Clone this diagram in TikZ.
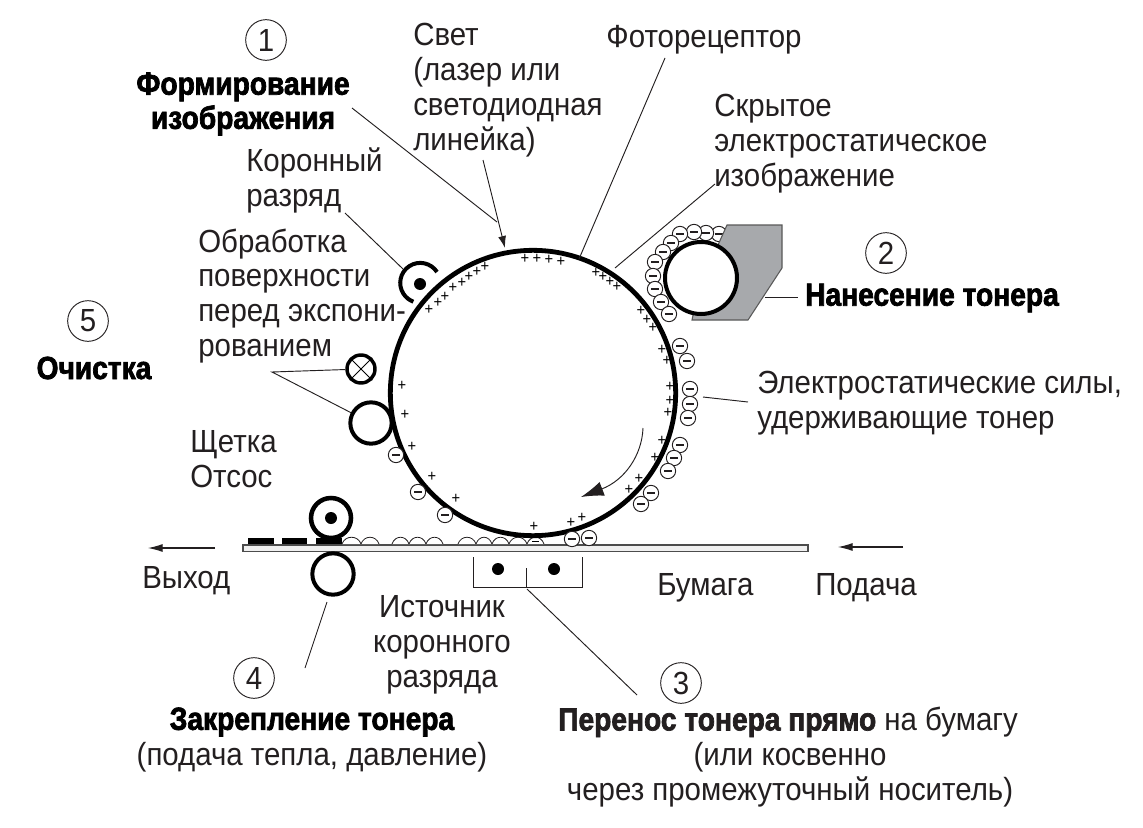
\documentclass[tikz,border=0pt]{standalone}
\usepackage{fontspec}
\usetikzlibrary{arrows.meta}
\setmainfont[FakeStretch=0.92]{Liberation Sans}
\newfontfamily\heavyfont[FakeStretch=0.88,FakeBold=2.2]{Liberation Sans Bold}
\definecolor{inkgray}{HTML}{231F20}
\definecolor{boxgray}{HTML}{A7A9AC}
\tikzset{
    lbl/.style={inner sep=0pt, anchor=west, align=left, text=inkgray,
        font=\fontsize{24}{26.2}\selectfont},
    lblmid/.style={lbl, anchor=center, align=center},
    heavy/.style={inner sep=0pt, anchor=center, align=center, text=black,
        font=\fontsize{24}{25.6}\heavyfont},
    numcirc/.style={circle, draw=inkgray, line width=0.7pt, minimum size=30.5pt, inner sep=0pt,
        text=inkgray, font=\fontsize{24}{24}\selectfont},
    roller/.style={circle, draw=black, fill=white, inner sep=0pt},
    dotmark/.style={circle, fill=black, minimum size=9pt, inner sep=0pt},
    toner/.style={circle, draw=inkgray, fill=white, line width=0.7pt, minimum size=11.5pt, inner sep=0pt,
        path picture={\draw[line width=0.9pt] (-2.8pt,0) -- (2.8pt,0);}},
    pluschg/.style={inner sep=0pt, text=black, font=\fontsize{12}{12}\selectfont},
    lead/.style={draw=inkgray, line width=0.7pt}
}
\begin{document}
\begin{tikzpicture}[x=0.75pt, y=-0.75pt, >=latex]
    \useasboundingbox (0,0) rectangle (1143,828);

    % 1. Бумага и валики
    \fill[white] (0,0) rectangle (1143,828);
    \draw[draw=black!70, fill=black!6, line width=0.9pt] (243,545) rectangle (808,551.5);
    \foreach \xa/\xb in {248/274, 282/307, 316/342}
        \fill[black] (\xa,538) rectangle (\xb,544);
    \foreach \xa/\xb in {342/361, 361/379, 392/409, 409/426, 426/443, 458/476, 476/492, 492/509, 509/527, 527/544}
        \draw[fill=white, draw=inkgray, line width=0.6pt] (\xa,544) .. controls (\xa+3,535) and (\xb-3,535) .. (\xb,544);
    \draw[line width=0.7pt] (532,541) -- (539,541);

    % 2. Барабан
    \node[roller, line width=3.6pt, minimum size=214pt, fill=none] (drum) at (533,393) {};

    % 3. Проявка: тонер, корпус и валик
    \foreach \px/\py in {719/234, 706/233, 694/232, 680/234, 671/243, 663/252, 655/262, 653/276, 655/289, 661/302, 669/314}
        \node[toner] at (\px,\py) {};
    \draw[draw=black!65, fill=boxgray, line width=0.8pt] (727,225) -- (782,225) -- (782,268) -- (748,320) -- (692,320) -- (701,278) -- (718,245) -- cycle;
    \node[roller, line width=3pt, minimum size=54pt] (devroller) at (701,278) {};

    % 4. Заряды на барабане
    \foreach \px/\py in {680/346, 687/361, 690/389, 690/404, 688/418, 680/445, 674/458, 668/471, 651/493, 641/504, 589/538, 572/539, 396/455, 418/492, 445/515}
        \node[toner] at (\px,\py) {};
    \foreach \px/\py in {429/310, 438/303, 445/297, 453/288, 462/283, 469/277, 477/272, 485/267,
        525/259, 537/259, 549/260, 561/262, 596/273, 603/277, 610/282, 617/287,
        641/311, 647/320, 653/328, 662/350, 667/361, 670/387, 670/401, 668/413,
        662/441, 655/458, 639/479, 629/490, 582/518, 571/523, 534/527,
        402/386, 405/415, 412/447, 432/477, 456/499}
        \node[pluschg] at (\px,\py) {+};

    % 5. Коронный разряд, лампа и щетка
    \node[dotmark] (coronadot) at (420,284) {};
    \draw[line width=3pt] (437,272) arc[start angle=-33, end angle=-250, radius=20];
    \node[roller, line width=2.6pt, minimum size=21pt] (lamp) at (361,369) {};
    \draw[line width=0.7pt] (lamp.north east) -- (lamp.south west) (lamp.north west) -- (lamp.south east);
    \node[roller, line width=3pt, minimum size=31pt] (brush) at (371,423) {};

    % 6. Закрепляющие валики
    \node[roller, line width=3.4pt, minimum size=30pt] (fuseup) at (331,518) {};
    \node[dotmark] (fusedot) at (331,518) {};
    \node[roller, line width=3pt, minimum size=31pt] (fusedown) at (333,574) {};

    % 7. Источник коронного разряда
    \node[dotmark] (srcleft) at (498,569) {};
    \node[dotmark] (srcright) at (554,569) {};
    \coordinate (brtl) at (473,557);
    \coordinate (brbl) at (473,587);
    \coordinate (brbr) at (582,587);
    \coordinate (brtr) at (582,557);
    \coordinate (brmid) at (526,587);
    \coordinate (brtick) at (526,568);
    \draw[lead] (brtl) -- (brbl) -- (brbr) -- (brtr);
    \draw[lead] (brtick) -- (brmid);

    % 8. Подписи
    \node[numcirc] (numa) at (266,40) {1};
    \node[numcirc] (numb) at (886,253) {2};
    \node[numcirc] (numc) at (681,683) {3};
    \node[numcirc] (numd) at (254,678) {4};
    \node[numcirc] (nume) at (88,321) {5};

    \node[heavy] (formtxt) at (243,104) {Формирование\\изображения};
    \node[heavy] (cleantxt) at (94,368) {Очистка};
    \node[heavy] (tonertxt) at (932,298) {Нанесение тонера};
    \node[heavy] (fixtxt) at (312,722) {Закрепление тонера};
    \node[lblmid] (fixsub) at (312,757) {(подача тепла, давление)};
    \node[lbl] (transtxt) at (558,722) {{\heavyfont Перенос тонера прямо} на бумагу};
    \node[lblmid] (transsub) at (790,775) {(или косвенно\\через промежуточный носитель)};

    \node[lbl] (lighttxt) at (413,90) {Свет\\(лазер или\\светодиодная\\линейка)};
    \node[lblmid] (phototxt) at (704,40) {Фоторецептор};
    \node[lbl] (latenttxt) at (714,144) {Скрытое\\электростатическое\\изображение};
    \node[lbl] (coronatxt) at (246,180) {Коронный\\разряд};
    \node[lbl] (pretxt) at (198,296) {Обработка\\поверхности\\перед экспони-\\рованием};
    \node[lbl] (forcetxt) at (757,403) {Электростатические силы,\\удерживающие тонер};
    \node[lbl] (brushtxt) at (190,459) {Щетка\\Отсос};
    \node[lbl] (outtxt) at (142,581) {Выход};
    \node[lbl] (papertxt) at (657,588) {Бумага};
    \node[lbl] (feedtxt) at (815,588) {Подача};
    \node[lblmid] (srctxt) at (442,645) {Источник\\коронного\\разряда};

    % 9. Выноски
    \coordinate (forma) at (352,108);
    \coordinate (formb) at (497,222);
    \coordinate (lighta) at (483,160);
    \coordinate (lightb) at (505,248);
    \coordinate (photoa) at (665,58);
    \coordinate (photob) at (579,259);
    \coordinate (latenta) at (715,184);
    \coordinate (latentb) at (615,268);
    \coordinate (coronaa) at (345,213);
    \coordinate (coronab) at (403,269);
    \coordinate (fork) at (272,372);
    \coordinate (tonerstart) at (765,297);
    \coordinate (tonerend) at (798,297);
    \coordinate (forcea) at (703,397);
    \coordinate (forceb) at (748,402);
    \coordinate (fixa) at (327,602);
    \coordinate (fixb) at (305,668);
    \coordinate (srcend) at (637,695);
    \coordinate (srcstart) at (527,589);
    \coordinate (rota) at (643,428);
    \coordinate (rotb) at (581,497);
    \coordinate (outa) at (215,548);
    \coordinate (outb) at (148,548);
    \coordinate (feeda) at (903,547);
    \coordinate (feedb) at (838,547);

    \draw[lead] (forma) -- (formb);
    \draw[lead, -{Latex[length=9pt, width=6pt]}] (lighta) -- (lightb);
    \draw[lead] (photoa) -- (photob);
    \draw[lead] (latenta) -- (latentb);
    \draw[lead] (coronaa) -- (coronab);
    \draw[lead] (lamp) -- (fork) -- (brush);
    \draw[lead] (tonerstart) -- (tonerend);
    \draw[lead] (forcea) -- (forceb);
    \draw[lead] (fixa) -- (fixb);
    \draw[lead] (srcstart) -- (srcend);
    \draw[lead, -{Latex[length=17pt, width=11pt]}] (rota) .. controls (642,455) and (625,480) .. (rotb);
    \draw[lead, line width=0.8pt, -{Latex[length=11pt, width=6pt]}] (outa) -- (outb);
    \draw[lead, line width=0.8pt, -{Latex[length=11pt, width=6pt]}] (feeda) -- (feedb);
\end{tikzpicture}
\end{document}
